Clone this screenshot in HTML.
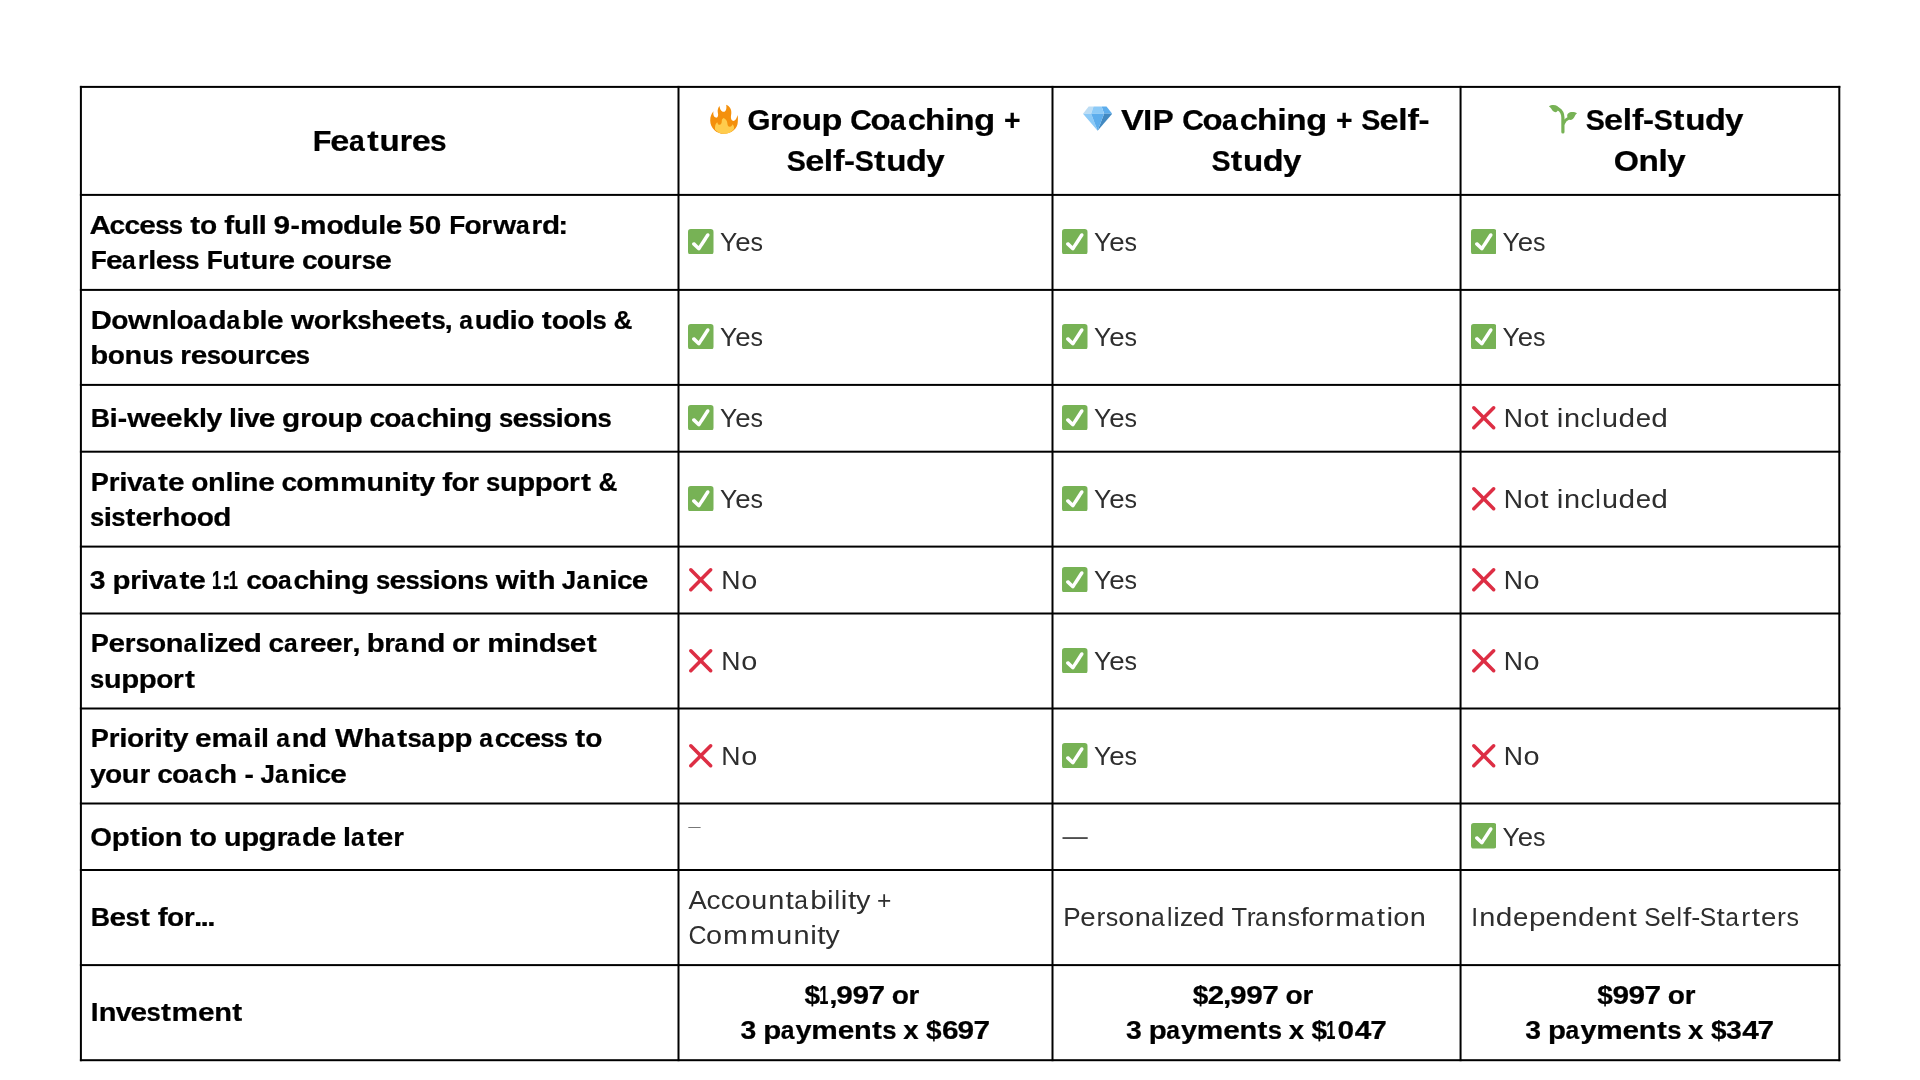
<!DOCTYPE html>
<html><head><meta charset="utf-8"><title>Coaching Comparison</title>
<style>
html,body{margin:0;padding:0;background:#fff;}
body{width:1920px;height:1080px;overflow:hidden;position:relative;font-family:"Liberation Sans",sans-serif;color:#000;}
.t{position:absolute;white-space:nowrap;line-height:normal;transform-origin:0 0;}
#tx{position:absolute;left:0;top:0;width:1920px;height:1080px;will-change:transform;}
.b{font-weight:bold;-webkit-text-stroke:0.23px #000;}
.r{color:#2e2e2e;-webkit-text-stroke:0px #fff;}
.t i{display:inline-block;width:0;font-style:normal;transform-origin:0 0;}
.sp{font-size:0;}
.e{position:absolute;display:block;}
svg.g{position:absolute;left:0;top:0;}
</style></head><body>

<svg class="g" width="1920" height="1080" viewBox="0 0 1920 1080">
<rect x="79.90" y="85.90" width="1760.40" height="2.0" fill="#000"/>
<rect x="79.90" y="193.90" width="1760.40" height="2.0" fill="#000"/>
<rect x="79.90" y="288.90" width="1760.40" height="2.0" fill="#000"/>
<rect x="79.90" y="383.90" width="1760.40" height="2.0" fill="#000"/>
<rect x="79.90" y="450.70" width="1760.40" height="2.0" fill="#000"/>
<rect x="79.90" y="545.60" width="1760.40" height="2.0" fill="#000"/>
<rect x="79.90" y="612.50" width="1760.40" height="2.0" fill="#000"/>
<rect x="79.90" y="707.50" width="1760.40" height="2.0" fill="#000"/>
<rect x="79.90" y="802.50" width="1760.40" height="2.0" fill="#000"/>
<rect x="79.90" y="869.00" width="1760.40" height="2.0" fill="#000"/>
<rect x="79.90" y="964.10" width="1760.40" height="2.0" fill="#000"/>
<rect x="79.90" y="1059.20" width="1760.40" height="2.0" fill="#000"/>
<rect x="79.90" y="85.90" width="2.0" height="975.30" fill="#000"/>
<rect x="677.50" y="85.90" width="2.0" height="975.30" fill="#000"/>
<rect x="1051.50" y="85.90" width="2.0" height="975.30" fill="#000"/>
<rect x="1459.56" y="85.90" width="2.0" height="975.30" fill="#000"/>
<rect x="1838.30" y="85.90" width="2.0" height="975.30" fill="#000"/>
<rect x="688.3" y="827.0" width="12.3" height="1.0" fill="#777"/>
<rect x="1062.5" y="837.3" width="25.2" height="1.5" fill="#222"/>
</svg>
<div id="tx">
<div class="t b" style="left:312px;top:124px;font-size:29.8px"><i style="transform:translateX(0.75px) scaleX(1.026)">F</i><i style="transform:translateX(18.32px) scaleX(1.150)">e</i><i style="transform:translateX(36.97px) scaleX(0.950)">a</i><i style="transform:translateX(55.35px) scaleX(1.150)">t</i><i style="transform:translateX(67.60px) scaleX(1.111)">u</i><i style="transform:translateX(87.70px) scaleX(1.065)">r</i><i style="transform:translateX(99.69px) scaleX(1.150)">e</i><i style="transform:translateX(118.09px) scaleX(1.000)">s</i></div>
<div class="t b" style="left:748px;top:103px;font-size:29.8px"><i style="transform:translateX(-0.59px) scaleX(0.990)">G</i><i style="transform:translateX(22.06px) scaleX(1.065)">r</i><i style="transform:translateX(34.05px) scaleX(1.101)">o</i><i style="transform:translateX(53.66px) scaleX(1.111)">u</i><i style="transform:translateX(73.60px) scaleX(1.147)">p</i><span class="sp"> </span><i style="transform:translateX(102.19px) scaleX(1.005)">C</i><i style="transform:translateX(122.54px) scaleX(1.101)">o</i><i style="transform:translateX(142.08px) scaleX(0.950)">a</i><i style="transform:translateX(159.67px) scaleX(1.097)">c</i><i style="transform:translateX(177.03px) scaleX(1.126)">h</i><i style="transform:translateX(197.17px) scaleX(1.150)">i</i><i style="transform:translateX(206.22px) scaleX(1.118)">n</i><i style="transform:translateX(226.37px) scaleX(1.150)">g</i><span class="sp"> </span><i style="transform:translateX(256.06px) scaleX(0.950)">+</i></div>
<div class="t b" style="left:787px;top:144px;font-size:29.8px"><i style="transform:translateX(-0.16px) scaleX(0.961)">S</i><i style="transform:translateX(18.18px) scaleX(1.150)">e</i><i style="transform:translateX(36.83px) scaleX(1.122)">l</i><i style="transform:translateX(46.06px) scaleX(1.150)">f</i><i style="transform:translateX(57.12px) scaleX(1.107)">-</i><i style="transform:translateX(67.79px) scaleX(0.961)">S</i><i style="transform:translateX(87.05px) scaleX(1.150)">t</i><i style="transform:translateX(99.30px) scaleX(1.111)">u</i><i style="transform:translateX(119.05px) scaleX(1.147)">d</i><i style="transform:translateX(139.18px) scaleX(1.111)">y</i></div>
<div class="t b" style="left:1122px;top:103px;font-size:29.8px"><i style="transform:translateX(-1.03px) scaleX(1.149)">V</i><i style="transform:translateX(21.09px) scaleX(1.116)">I</i><i style="transform:translateX(30.82px) scaleX(1.053)">P</i><span class="sp"> </span><i style="transform:translateX(60.16px) scaleX(1.005)">C</i><i style="transform:translateX(80.51px) scaleX(1.101)">o</i><i style="transform:translateX(100.05px) scaleX(0.950)">a</i><i style="transform:translateX(117.64px) scaleX(1.097)">c</i><i style="transform:translateX(135.00px) scaleX(1.126)">h</i><i style="transform:translateX(155.14px) scaleX(1.150)">i</i><i style="transform:translateX(164.19px) scaleX(1.118)">n</i><i style="transform:translateX(184.34px) scaleX(1.150)">g</i><span class="sp"> </span><i style="transform:translateX(214.03px) scaleX(0.950)">+</i><span class="sp"> </span><i style="transform:translateX(239.27px) scaleX(0.961)">S</i><i style="transform:translateX(257.62px) scaleX(1.150)">e</i><i style="transform:translateX(276.26px) scaleX(1.122)">l</i><i style="transform:translateX(285.50px) scaleX(1.150)">f</i><i style="transform:translateX(296.55px) scaleX(1.107)">-</i></div>
<div class="t b" style="left:1212px;top:144px;font-size:29.8px"><i style="transform:translateX(-0.46px) scaleX(0.961)">S</i><i style="transform:translateX(18.79px) scaleX(1.150)">t</i><i style="transform:translateX(31.04px) scaleX(1.111)">u</i><i style="transform:translateX(50.79px) scaleX(1.147)">d</i><i style="transform:translateX(70.92px) scaleX(1.111)">y</i></div>
<div class="t b" style="left:1586px;top:103px;font-size:29.8px"><i style="transform:translateX(-0.26px) scaleX(0.961)">S</i><i style="transform:translateX(18.08px) scaleX(1.150)">e</i><i style="transform:translateX(36.73px) scaleX(1.122)">l</i><i style="transform:translateX(45.96px) scaleX(1.150)">f</i><i style="transform:translateX(57.02px) scaleX(1.107)">-</i><i style="transform:translateX(67.69px) scaleX(0.961)">S</i><i style="transform:translateX(86.95px) scaleX(1.150)">t</i><i style="transform:translateX(99.20px) scaleX(1.111)">u</i><i style="transform:translateX(118.95px) scaleX(1.147)">d</i><i style="transform:translateX(139.08px) scaleX(1.111)">y</i></div>
<div class="t b" style="left:1614px;top:144px;font-size:29.8px"><i style="transform:translateX(-0.30px) scaleX(1.087)">O</i><i style="transform:translateX(24.49px) scaleX(1.118)">n</i><i style="transform:translateX(44.62px) scaleX(1.122)">l</i><i style="transform:translateX(53.17px) scaleX(1.111)">y</i></div>
<div class="t b" style="left:90px;top:211px;font-size:25.9px"><i style="transform:translateX(-0.50px) scaleX(1.150)">A</i><i style="transform:translateX(19.54px) scaleX(1.087)">c</i><i style="transform:translateX(34.38px) scaleX(1.087)">c</i><i style="transform:translateX(49.17px) scaleX(1.150)">e</i><i style="transform:translateX(65.14px) scaleX(0.992)">s</i><i style="transform:translateX(78.63px) scaleX(0.992)">s</i><span class="sp"> </span><i style="transform:translateX(100.15px) scaleX(1.150)">t</i><i style="transform:translateX(110.03px) scaleX(1.087)">o</i><span class="sp"> </span><i style="transform:translateX(134.31px) scaleX(1.150)">f</i><i style="transform:translateX(143.89px) scaleX(1.112)">u</i><i style="transform:translateX(161.22px) scaleX(1.111)">l</i><i style="transform:translateX(168.87px) scaleX(1.111)">l</i><span class="sp"> </span><i style="transform:translateX(183.47px) scaleX(1.150)">9</i><i style="transform:translateX(200.38px) scaleX(1.091)">-</i><i style="transform:translateX(210.04px) scaleX(1.150)">m</i><i style="transform:translateX(236.44px) scaleX(1.087)">o</i><i style="transform:translateX(253.00px) scaleX(1.146)">d</i><i style="transform:translateX(270.86px) scaleX(1.112)">u</i><i style="transform:translateX(288.19px) scaleX(1.111)">l</i><i style="transform:translateX(295.70px) scaleX(1.150)">e</i><span class="sp"> </span><i style="transform:translateX(318.67px) scaleX(1.093)">5</i><i style="transform:translateX(334.73px) scaleX(1.150)">0</i><span class="sp"> </span><i style="transform:translateX(359.17px) scaleX(1.015)">F</i><i style="transform:translateX(374.39px) scaleX(1.087)">o</i><i style="transform:translateX(391.31px) scaleX(1.063)">r</i><i style="transform:translateX(402.99px) scaleX(1.150)">w</i><i style="transform:translateX(425.98px) scaleX(0.950)">a</i><i style="transform:translateX(441.56px) scaleX(1.063)">r</i><i style="transform:translateX(451.93px) scaleX(1.146)">d</i><i style="transform:translateX(468.27px) scaleX(1.150)">:</i></div>
<div class="t b" style="left:90px;top:246px;font-size:25.9px"><i style="transform:translateX(0.87px) scaleX(1.015)">F</i><i style="transform:translateX(16.05px) scaleX(1.150)">e</i><i style="transform:translateX(32.12px) scaleX(0.950)">a</i><i style="transform:translateX(47.70px) scaleX(1.063)">r</i><i style="transform:translateX(58.36px) scaleX(1.111)">l</i><i style="transform:translateX(65.87px) scaleX(1.150)">e</i><i style="transform:translateX(81.84px) scaleX(0.992)">s</i><i style="transform:translateX(95.33px) scaleX(0.992)">s</i><span class="sp"> </span><i style="transform:translateX(116.77px) scaleX(1.015)">F</i><i style="transform:translateX(132.20px) scaleX(1.112)">u</i><i style="transform:translateX(150.19px) scaleX(1.150)">t</i><i style="transform:translateX(160.70px) scaleX(1.112)">u</i><i style="transform:translateX(178.22px) scaleX(1.063)">r</i><i style="transform:translateX(188.62px) scaleX(1.150)">e</i><span class="sp"> </span><i style="transform:translateX(211.89px) scaleX(1.087)">c</i><i style="transform:translateX(226.72px) scaleX(1.087)">o</i><i style="transform:translateX(243.57px) scaleX(1.112)">u</i><i style="transform:translateX(261.09px) scaleX(1.063)">r</i><i style="transform:translateX(271.65px) scaleX(0.992)">s</i><i style="transform:translateX(285.20px) scaleX(1.150)">e</i></div>
<div class="t b" style="left:90px;top:306px;font-size:25.9px"><i style="transform:translateX(0.69px) scaleX(1.126)">D</i><i style="transform:translateX(21.19px) scaleX(1.087)">o</i><i style="transform:translateX(38.08px) scaleX(1.150)">w</i><i style="transform:translateX(61.43px) scaleX(1.120)">n</i><i style="transform:translateX(78.89px) scaleX(1.111)">l</i><i style="transform:translateX(86.45px) scaleX(1.087)">o</i><i style="transform:translateX(103.22px) scaleX(0.950)">a</i><i style="transform:translateX(118.55px) scaleX(1.146)">d</i><i style="transform:translateX(136.57px) scaleX(0.950)">a</i><i style="transform:translateX(152.03px) scaleX(1.137)">b</i><i style="transform:translateX(169.49px) scaleX(1.111)">l</i><i style="transform:translateX(176.99px) scaleX(1.150)">e</i><span class="sp"> </span><i style="transform:translateX(200.89px) scaleX(1.150)">w</i><i style="transform:translateX(223.68px) scaleX(1.087)">o</i><i style="transform:translateX(240.60px) scaleX(1.063)">r</i><i style="transform:translateX(251.44px) scaleX(1.150)">k</i><i style="transform:translateX(267.24px) scaleX(0.992)">s</i><i style="transform:translateX(280.89px) scaleX(1.129)">h</i><i style="transform:translateX(298.44px) scaleX(1.150)">e</i><i style="transform:translateX(314.46px) scaleX(1.150)">e</i><i style="transform:translateX(331.28px) scaleX(1.150)">t</i><i style="transform:translateX(341.49px) scaleX(0.992)">s</i><i style="transform:translateX(354.52px) scaleX(1.150)">,</i><span class="sp"> </span><i style="transform:translateX(369.29px) scaleX(0.950)">a</i><i style="transform:translateX(384.80px) scaleX(1.112)">u</i><i style="transform:translateX(401.97px) scaleX(1.146)">d</i><i style="transform:translateX(419.57px) scaleX(1.150)">i</i><i style="transform:translateX(427.26px) scaleX(1.087)">o</i><span class="sp"> </span><i style="transform:translateX(451.83px) scaleX(1.150)">t</i><i style="transform:translateX(461.71px) scaleX(1.087)">o</i><i style="transform:translateX(478.35px) scaleX(1.087)">o</i><i style="transform:translateX(495.07px) scaleX(1.111)">l</i><i style="transform:translateX(502.53px) scaleX(0.992)">s</i><span class="sp"> </span><i style="transform:translateX(523.38px) scaleX(1.012)">&amp;</i></div>
<div class="t b" style="left:90px;top:341px;font-size:25.9px"><i style="transform:translateX(0.37px) scaleX(1.137)">b</i><i style="transform:translateX(17.74px) scaleX(1.087)">o</i><i style="transform:translateX(34.56px) scaleX(1.120)">n</i><i style="transform:translateX(52.14px) scaleX(1.112)">u</i><i style="transform:translateX(69.27px) scaleX(0.992)">s</i><span class="sp"> </span><i style="transform:translateX(90.33px) scaleX(1.063)">r</i><i style="transform:translateX(100.73px) scaleX(1.150)">e</i><i style="transform:translateX(116.70px) scaleX(0.992)">s</i><i style="transform:translateX(130.30px) scaleX(1.087)">o</i><i style="transform:translateX(147.14px) scaleX(1.112)">u</i><i style="transform:translateX(164.67px) scaleX(1.063)">r</i><i style="transform:translateX(175.11px) scaleX(1.087)">c</i><i style="transform:translateX(189.90px) scaleX(1.150)">e</i><i style="transform:translateX(205.87px) scaleX(0.992)">s</i></div>
<div class="t b" style="left:90px;top:404px;font-size:25.9px"><i style="transform:translateX(0.85px) scaleX(1.032)">B</i><i style="transform:translateX(19.59px) scaleX(1.150)">i</i><i style="transform:translateX(27.79px) scaleX(1.091)">-</i><i style="transform:translateX(37.31px) scaleX(1.150)">w</i><i style="transform:translateX(60.05px) scaleX(1.150)">e</i><i style="transform:translateX(76.07px) scaleX(1.150)">e</i><i style="transform:translateX(92.42px) scaleX(1.150)">k</i><i style="transform:translateX(108.88px) scaleX(1.111)">l</i><i style="transform:translateX(116.20px) scaleX(1.113)">y</i><span class="sp"> </span><i style="transform:translateX(138.90px) scaleX(1.111)">l</i><i style="transform:translateX(146.40px) scaleX(1.150)">i</i><i style="transform:translateX(154.08px) scaleX(1.099)">v</i><i style="transform:translateX(168.86px) scaleX(1.150)">e</i><span class="sp"> </span><i style="transform:translateX(192.02px) scaleX(1.150)">g</i><i style="transform:translateX(210.19px) scaleX(1.063)">r</i><i style="transform:translateX(220.63px) scaleX(1.087)">o</i><i style="transform:translateX(237.48px) scaleX(1.112)">u</i><i style="transform:translateX(254.87px) scaleX(1.137)">p</i><span class="sp"> </span><i style="transform:translateX(279.43px) scaleX(1.087)">c</i><i style="transform:translateX(294.27px) scaleX(1.087)">o</i><i style="transform:translateX(311.05px) scaleX(0.950)">a</i><i style="transform:translateX(326.45px) scaleX(1.087)">c</i><i style="transform:translateX(341.42px) scaleX(1.129)">h</i><i style="transform:translateX(358.87px) scaleX(1.150)">i</i><i style="transform:translateX(366.75px) scaleX(1.120)">n</i><i style="transform:translateX(384.12px) scaleX(1.150)">g</i><span class="sp"> </span><i style="transform:translateX(409.08px) scaleX(0.992)">s</i><i style="transform:translateX(422.62px) scaleX(1.150)">e</i><i style="transform:translateX(438.60px) scaleX(0.992)">s</i><i style="transform:translateX(452.08px) scaleX(0.992)">s</i><i style="transform:translateX(465.62px) scaleX(1.150)">i</i><i style="transform:translateX(473.32px) scaleX(1.087)">o</i><i style="transform:translateX(490.14px) scaleX(1.120)">n</i><i style="transform:translateX(507.41px) scaleX(0.992)">s</i></div>
<div class="t b" style="left:90px;top:468px;font-size:25.9px"><i style="transform:translateX(0.82px) scaleX(1.048)">P</i><i style="transform:translateX(18.82px) scaleX(1.063)">r</i><i style="transform:translateX(29.35px) scaleX(1.150)">i</i><i style="transform:translateX(37.02px) scaleX(1.099)">v</i><i style="transform:translateX(52.05px) scaleX(0.950)">a</i><i style="transform:translateX(68.09px) scaleX(1.150)">t</i><i style="transform:translateX(77.92px) scaleX(1.150)">e</i><span class="sp"> </span><i style="transform:translateX(101.19px) scaleX(1.087)">o</i><i style="transform:translateX(118.01px) scaleX(1.120)">n</i><i style="transform:translateX(135.46px) scaleX(1.111)">l</i><i style="transform:translateX(142.97px) scaleX(1.150)">i</i><i style="transform:translateX(150.85px) scaleX(1.120)">n</i><i style="transform:translateX(168.27px) scaleX(1.150)">e</i><span class="sp"> </span><i style="transform:translateX(191.54px) scaleX(1.087)">c</i><i style="transform:translateX(206.37px) scaleX(1.087)">o</i><i style="transform:translateX(223.37px) scaleX(1.150)">m</i><i style="transform:translateX(250.01px) scaleX(1.150)">m</i><i style="transform:translateX(276.51px) scaleX(1.112)">u</i><i style="transform:translateX(293.94px) scaleX(1.120)">n</i><i style="transform:translateX(311.25px) scaleX(1.150)">i</i><i style="transform:translateX(319.69px) scaleX(1.150)">t</i><i style="transform:translateX(329.15px) scaleX(1.113)">y</i><span class="sp"> </span><i style="transform:translateX(352.22px) scaleX(1.150)">f</i><i style="transform:translateX(361.42px) scaleX(1.087)">o</i><i style="transform:translateX(378.34px) scaleX(1.063)">r</i><span class="sp"> </span><i style="transform:translateX(396.08px) scaleX(0.992)">s</i><i style="transform:translateX(409.88px) scaleX(1.112)">u</i><i style="transform:translateX(427.28px) scaleX(1.137)">p</i><i style="transform:translateX(444.81px) scaleX(1.137)">p</i><i style="transform:translateX(462.18px) scaleX(1.087)">o</i><i style="transform:translateX(479.10px) scaleX(1.063)">r</i><i style="transform:translateX(490.89px) scaleX(1.150)">t</i><span class="sp"> </span><i style="transform:translateX(508.46px) scaleX(1.012)">&amp;</i></div>
<div class="t b" style="left:90px;top:503px;font-size:25.9px"><i style="transform:translateX(0.11px) scaleX(0.992)">s</i><i style="transform:translateX(13.65px) scaleX(1.150)">i</i><i style="transform:translateX(21.24px) scaleX(0.992)">s</i><i style="transform:translateX(35.58px) scaleX(1.150)">t</i><i style="transform:translateX(45.40px) scaleX(1.150)">e</i><i style="transform:translateX(61.76px) scaleX(1.063)">r</i><i style="transform:translateX(72.39px) scaleX(1.129)">h</i><i style="transform:translateX(89.99px) scaleX(1.087)">o</i><i style="transform:translateX(106.63px) scaleX(1.087)">o</i><i style="transform:translateX(123.19px) scaleX(1.146)">d</i></div>
<div class="t b" style="left:90px;top:566px;font-size:25.9px"><i style="transform:translateX(-0.16px) scaleX(1.093)">3</i><span class="sp"> </span><i style="transform:translateX(22.59px) scaleX(1.137)">p</i><i style="transform:translateX(40.25px) scaleX(1.063)">r</i><i style="transform:translateX(50.77px) scaleX(1.150)">i</i><i style="transform:translateX(58.44px) scaleX(1.099)">v</i><i style="transform:translateX(73.47px) scaleX(0.950)">a</i><i style="transform:translateX(89.51px) scaleX(1.150)">t</i><i style="transform:translateX(99.34px) scaleX(1.150)">e</i><span class="sp"> </span><i style="transform:translateX(122.08px) scaleX(0.636)">1</i><i style="transform:translateX(131.26px) scaleX(1.150)">:</i><i style="transform:translateX(138.69px) scaleX(0.636)">1</i><span class="sp"> </span><i style="transform:translateX(156.36px) scaleX(1.087)">c</i><i style="transform:translateX(171.20px) scaleX(1.087)">o</i><i style="transform:translateX(187.98px) scaleX(0.950)">a</i><i style="transform:translateX(203.38px) scaleX(1.087)">c</i><i style="transform:translateX(218.35px) scaleX(1.129)">h</i><i style="transform:translateX(235.80px) scaleX(1.150)">i</i><i style="transform:translateX(243.68px) scaleX(1.120)">n</i><i style="transform:translateX(261.04px) scaleX(1.150)">g</i><span class="sp"> </span><i style="transform:translateX(286.01px) scaleX(0.992)">s</i><i style="transform:translateX(299.55px) scaleX(1.150)">e</i><i style="transform:translateX(315.52px) scaleX(0.992)">s</i><i style="transform:translateX(329.01px) scaleX(0.992)">s</i><i style="transform:translateX(342.55px) scaleX(1.150)">i</i><i style="transform:translateX(350.25px) scaleX(1.087)">o</i><i style="transform:translateX(367.07px) scaleX(1.120)">n</i><i style="transform:translateX(384.33px) scaleX(0.992)">s</i><span class="sp"> </span><i style="transform:translateX(405.74px) scaleX(1.150)">w</i><i style="transform:translateX(428.86px) scaleX(1.150)">i</i><i style="transform:translateX(437.30px) scaleX(1.150)">t</i><i style="transform:translateX(447.66px) scaleX(1.129)">h</i><span class="sp"> </span><i style="transform:translateX(471.83px) scaleX(1.000)">J</i><i style="transform:translateX(486.46px) scaleX(0.950)">a</i><i style="transform:translateX(501.94px) scaleX(1.120)">n</i><i style="transform:translateX(519.26px) scaleX(1.150)">i</i><i style="transform:translateX(526.96px) scaleX(1.087)">c</i><i style="transform:translateX(541.74px) scaleX(1.150)">e</i></div>
<div class="t b" style="left:90px;top:629px;font-size:25.9px"><i style="transform:translateX(0.82px) scaleX(1.048)">P</i><i style="transform:translateX(18.47px) scaleX(1.150)">e</i><i style="transform:translateX(34.83px) scaleX(1.063)">r</i><i style="transform:translateX(45.39px) scaleX(0.992)">s</i><i style="transform:translateX(58.98px) scaleX(1.087)">o</i><i style="transform:translateX(75.80px) scaleX(1.120)">n</i><i style="transform:translateX(93.54px) scaleX(0.950)">a</i><i style="transform:translateX(108.93px) scaleX(1.111)">l</i><i style="transform:translateX(116.44px) scaleX(1.150)">i</i><i style="transform:translateX(124.21px) scaleX(1.109)">z</i><i style="transform:translateX(137.70px) scaleX(1.150)">e</i><i style="transform:translateX(153.71px) scaleX(1.146)">d</i><span class="sp"> </span><i style="transform:translateX(178.54px) scaleX(1.087)">c</i><i style="transform:translateX(193.93px) scaleX(0.950)">a</i><i style="transform:translateX(209.51px) scaleX(1.063)">r</i><i style="transform:translateX(219.90px) scaleX(1.150)">e</i><i style="transform:translateX(235.93px) scaleX(1.150)">e</i><i style="transform:translateX(252.29px) scaleX(1.063)">r</i><i style="transform:translateX(262.14px) scaleX(1.150)">,</i><span class="sp"> </span><i style="transform:translateX(276.70px) scaleX(1.137)">b</i><i style="transform:translateX(294.35px) scaleX(1.063)">r</i><i style="transform:translateX(304.40px) scaleX(0.950)">a</i><i style="transform:translateX(319.88px) scaleX(1.120)">n</i><i style="transform:translateX(337.28px) scaleX(1.146)">d</i><span class="sp"> </span><i style="transform:translateX(362.12px) scaleX(1.087)">o</i><i style="transform:translateX(379.03px) scaleX(1.063)">r</i><span class="sp"> </span><i style="transform:translateX(397.24px) scaleX(1.150)">m</i><i style="transform:translateX(423.48px) scaleX(1.150)">i</i><i style="transform:translateX(431.36px) scaleX(1.120)">n</i><i style="transform:translateX(448.76px) scaleX(1.146)">d</i><i style="transform:translateX(466.30px) scaleX(0.992)">s</i><i style="transform:translateX(479.85px) scaleX(1.150)">e</i><i style="transform:translateX(496.67px) scaleX(1.150)">t</i></div>
<div class="t b" style="left:90px;top:665px;font-size:25.9px"><i style="transform:translateX(0.11px) scaleX(0.992)">s</i><i style="transform:translateX(13.91px) scaleX(1.112)">u</i><i style="transform:translateX(31.30px) scaleX(1.137)">p</i><i style="transform:translateX(48.83px) scaleX(1.137)">p</i><i style="transform:translateX(66.20px) scaleX(1.087)">o</i><i style="transform:translateX(83.12px) scaleX(1.063)">r</i><i style="transform:translateX(94.91px) scaleX(1.150)">t</i></div>
<div class="t b" style="left:90px;top:724px;font-size:25.9px"><i style="transform:translateX(0.82px) scaleX(1.048)">P</i><i style="transform:translateX(18.82px) scaleX(1.063)">r</i><i style="transform:translateX(29.35px) scaleX(1.150)">i</i><i style="transform:translateX(37.04px) scaleX(1.087)">o</i><i style="transform:translateX(53.96px) scaleX(1.063)">r</i><i style="transform:translateX(64.48px) scaleX(1.150)">i</i><i style="transform:translateX(72.92px) scaleX(1.150)">t</i><i style="transform:translateX(82.38px) scaleX(1.113)">y</i><span class="sp"> </span><i style="transform:translateX(104.94px) scaleX(1.150)">e</i><i style="transform:translateX(121.38px) scaleX(1.150)">m</i><i style="transform:translateX(148.04px) scaleX(0.950)">a</i><i style="transform:translateX(163.29px) scaleX(1.150)">i</i><i style="transform:translateX(171.07px) scaleX(1.111)">l</i><span class="sp"> </span><i style="transform:translateX(186.19px) scaleX(0.950)">a</i><i style="transform:translateX(201.67px) scaleX(1.120)">n</i><i style="transform:translateX(219.07px) scaleX(1.146)">d</i><span class="sp"> </span><i style="transform:translateX(244.96px) scaleX(1.150)">W</i><i style="transform:translateX(273.37px) scaleX(1.129)">h</i><i style="transform:translateX(291.24px) scaleX(0.950)">a</i><i style="transform:translateX(307.28px) scaleX(1.150)">t</i><i style="transform:translateX(317.48px) scaleX(0.992)">s</i><i style="transform:translateX(331.45px) scaleX(0.950)">a</i><i style="transform:translateX(346.90px) scaleX(1.137)">p</i><i style="transform:translateX(364.43px) scaleX(1.137)">p</i><span class="sp"> </span><i style="transform:translateX(389.36px) scaleX(0.950)">a</i><i style="transform:translateX(404.76px) scaleX(1.087)">c</i><i style="transform:translateX(419.60px) scaleX(1.087)">c</i><i style="transform:translateX(434.38px) scaleX(1.150)">e</i><i style="transform:translateX(450.36px) scaleX(0.992)">s</i><i style="transform:translateX(463.84px) scaleX(0.992)">s</i><span class="sp"> </span><i style="transform:translateX(485.37px) scaleX(1.150)">t</i><i style="transform:translateX(495.25px) scaleX(1.087)">o</i></div>
<div class="t b" style="left:90px;top:760px;font-size:25.9px"><i style="transform:translateX(-0.02px) scaleX(1.113)">y</i><i style="transform:translateX(15.02px) scaleX(1.087)">o</i><i style="transform:translateX(31.87px) scaleX(1.112)">u</i><i style="transform:translateX(49.39px) scaleX(1.063)">r</i><span class="sp"> </span><i style="transform:translateX(67.24px) scaleX(1.087)">c</i><i style="transform:translateX(82.08px) scaleX(1.087)">o</i><i style="transform:translateX(98.86px) scaleX(0.950)">a</i><i style="transform:translateX(114.26px) scaleX(1.087)">c</i><i style="transform:translateX(129.23px) scaleX(1.129)">h</i><span class="sp"> </span><i style="transform:translateX(154.41px) scaleX(1.091)">-</i><span class="sp"> </span><i style="transform:translateX(170.40px) scaleX(1.000)">J</i><i style="transform:translateX(185.02px) scaleX(0.950)">a</i><i style="transform:translateX(200.50px) scaleX(1.120)">n</i><i style="transform:translateX(217.82px) scaleX(1.150)">i</i><i style="transform:translateX(225.52px) scaleX(1.087)">c</i><i style="transform:translateX(240.30px) scaleX(1.150)">e</i></div>
<div class="t b" style="left:90px;top:823px;font-size:25.9px"><i style="transform:translateX(0.31px) scaleX(1.078)">O</i><i style="transform:translateX(21.80px) scaleX(1.137)">p</i><i style="transform:translateX(39.92px) scaleX(1.150)">t</i><i style="transform:translateX(50.17px) scaleX(1.150)">i</i><i style="transform:translateX(57.87px) scaleX(1.087)">o</i><i style="transform:translateX(74.69px) scaleX(1.120)">n</i><span class="sp"> </span><i style="transform:translateX(99.99px) scaleX(1.150)">t</i><i style="transform:translateX(109.87px) scaleX(1.087)">o</i><span class="sp"> </span><i style="transform:translateX(133.90px) scaleX(1.112)">u</i><i style="transform:translateX(151.30px) scaleX(1.137)">p</i><i style="transform:translateX(168.57px) scaleX(1.150)">g</i><i style="transform:translateX(186.73px) scaleX(1.063)">r</i><i style="transform:translateX(196.78px) scaleX(0.950)">a</i><i style="transform:translateX(212.10px) scaleX(1.146)">d</i><i style="transform:translateX(229.70px) scaleX(1.150)">e</i><span class="sp"> </span><i style="transform:translateX(253.06px) scaleX(1.111)">l</i><i style="transform:translateX(260.99px) scaleX(0.950)">a</i><i style="transform:translateX(277.03px) scaleX(1.150)">t</i><i style="transform:translateX(286.86px) scaleX(1.150)">e</i><i style="transform:translateX(303.22px) scaleX(1.063)">r</i></div>
<div class="t b" style="left:90px;top:903px;font-size:25.9px"><i style="transform:translateX(0.85px) scaleX(1.032)">B</i><i style="transform:translateX(19.59px) scaleX(1.150)">e</i><i style="transform:translateX(35.57px) scaleX(0.992)">s</i><i style="transform:translateX(49.90px) scaleX(1.150)">t</i><span class="sp"> </span><i style="transform:translateX(67.85px) scaleX(1.150)">f</i><i style="transform:translateX(77.05px) scaleX(1.087)">o</i><i style="transform:translateX(93.97px) scaleX(1.063)">r</i><i style="transform:translateX(103.94px) scaleX(1.150)">.</i><i style="transform:translateX(110.59px) scaleX(1.150)">.</i><i style="transform:translateX(117.25px) scaleX(1.150)">.</i></div>
<div class="t b" style="left:90px;top:998px;font-size:25.9px"><i style="transform:translateX(0.77px) scaleX(1.079)">I</i><i style="transform:translateX(8.73px) scaleX(1.120)">n</i><i style="transform:translateX(25.82px) scaleX(1.099)">v</i><i style="transform:translateX(40.60px) scaleX(1.150)">e</i><i style="transform:translateX(56.57px) scaleX(0.992)">s</i><i style="transform:translateX(70.91px) scaleX(1.150)">t</i><i style="transform:translateX(81.57px) scaleX(1.150)">m</i><i style="transform:translateX(107.91px) scaleX(1.150)">e</i><i style="transform:translateX(124.17px) scaleX(1.120)">n</i><i style="transform:translateX(142.28px) scaleX(1.150)">t</i></div>
<div class="t r" style="left:721px;top:228px;font-size:25.9px"><i style="transform:translateX(-1.00px) scaleX(1.000)">Y</i><i style="transform:translateX(14.23px) scaleX(1.066)">e</i><i style="transform:translateX(29.57px) scaleX(0.965)">s</i></div>
<div class="t r" style="left:1094px;top:228px;font-size:25.9px"><i style="transform:translateX(-0.10px) scaleX(1.000)">Y</i><i style="transform:translateX(15.13px) scaleX(1.066)">e</i><i style="transform:translateX(30.47px) scaleX(0.965)">s</i></div>
<div class="t r" style="left:1503px;top:228px;font-size:25.9px"><i style="transform:translateX(-0.60px) scaleX(1.000)">Y</i><i style="transform:translateX(14.63px) scaleX(1.066)">e</i><i style="transform:translateX(29.97px) scaleX(0.965)">s</i></div>
<div class="t r" style="left:721px;top:323px;font-size:25.9px"><i style="transform:translateX(-1.00px) scaleX(1.000)">Y</i><i style="transform:translateX(14.23px) scaleX(1.066)">e</i><i style="transform:translateX(29.57px) scaleX(0.965)">s</i></div>
<div class="t r" style="left:1094px;top:323px;font-size:25.9px"><i style="transform:translateX(-0.10px) scaleX(1.000)">Y</i><i style="transform:translateX(15.13px) scaleX(1.066)">e</i><i style="transform:translateX(30.47px) scaleX(0.965)">s</i></div>
<div class="t r" style="left:1503px;top:323px;font-size:25.9px"><i style="transform:translateX(-0.60px) scaleX(1.000)">Y</i><i style="transform:translateX(14.63px) scaleX(1.066)">e</i><i style="transform:translateX(29.97px) scaleX(0.965)">s</i></div>
<div class="t r" style="left:721px;top:404px;font-size:25.9px"><i style="transform:translateX(-1.00px) scaleX(1.000)">Y</i><i style="transform:translateX(14.23px) scaleX(1.066)">e</i><i style="transform:translateX(29.57px) scaleX(0.965)">s</i></div>
<div class="t r" style="left:1094px;top:404px;font-size:25.9px"><i style="transform:translateX(-0.10px) scaleX(1.000)">Y</i><i style="transform:translateX(15.13px) scaleX(1.066)">e</i><i style="transform:translateX(30.47px) scaleX(0.965)">s</i></div>
<div class="t r" style="left:1503px;top:404px;font-size:25.9px"><i style="transform:translateX(0.74px) scaleX(1.028)">N</i><i style="transform:translateX(20.62px) scaleX(1.115)">o</i><i style="transform:translateX(37.27px) scaleX(1.150)">t</i><span class="sp"> </span><i style="transform:translateX(53.72px) scaleX(1.150)">i</i><i style="transform:translateX(60.98px) scaleX(1.118)">n</i><i style="transform:translateX(77.56px) scaleX(1.080)">c</i><i style="transform:translateX(92.34px) scaleX(0.950)">l</i><i style="transform:translateX(99.00px) scaleX(1.109)">u</i><i style="transform:translateX(115.57px) scaleX(1.150)">d</i><i style="transform:translateX(132.80px) scaleX(1.066)">e</i><i style="transform:translateX(148.13px) scaleX(1.150)">d</i></div>
<div class="t r" style="left:721px;top:485px;font-size:25.9px"><i style="transform:translateX(-1.00px) scaleX(1.000)">Y</i><i style="transform:translateX(14.23px) scaleX(1.066)">e</i><i style="transform:translateX(29.57px) scaleX(0.965)">s</i></div>
<div class="t r" style="left:1094px;top:485px;font-size:25.9px"><i style="transform:translateX(-0.10px) scaleX(1.000)">Y</i><i style="transform:translateX(15.13px) scaleX(1.066)">e</i><i style="transform:translateX(30.47px) scaleX(0.965)">s</i></div>
<div class="t r" style="left:1503px;top:485px;font-size:25.9px"><i style="transform:translateX(0.74px) scaleX(1.028)">N</i><i style="transform:translateX(20.62px) scaleX(1.115)">o</i><i style="transform:translateX(37.27px) scaleX(1.150)">t</i><span class="sp"> </span><i style="transform:translateX(53.72px) scaleX(1.150)">i</i><i style="transform:translateX(60.98px) scaleX(1.118)">n</i><i style="transform:translateX(77.56px) scaleX(1.080)">c</i><i style="transform:translateX(92.34px) scaleX(0.950)">l</i><i style="transform:translateX(99.00px) scaleX(1.109)">u</i><i style="transform:translateX(115.57px) scaleX(1.150)">d</i><i style="transform:translateX(132.80px) scaleX(1.066)">e</i><i style="transform:translateX(148.13px) scaleX(1.150)">d</i></div>
<div class="t r" style="left:721px;top:566px;font-size:25.9px"><i style="transform:translateX(0.34px) scaleX(1.028)">N</i><i style="transform:translateX(20.22px) scaleX(1.115)">o</i></div>
<div class="t r" style="left:1094px;top:566px;font-size:25.9px"><i style="transform:translateX(-0.10px) scaleX(1.000)">Y</i><i style="transform:translateX(15.13px) scaleX(1.066)">e</i><i style="transform:translateX(30.47px) scaleX(0.965)">s</i></div>
<div class="t r" style="left:1503px;top:566px;font-size:25.9px"><i style="transform:translateX(0.74px) scaleX(1.028)">N</i><i style="transform:translateX(20.62px) scaleX(1.115)">o</i></div>
<div class="t r" style="left:721px;top:647px;font-size:25.9px"><i style="transform:translateX(0.34px) scaleX(1.028)">N</i><i style="transform:translateX(20.22px) scaleX(1.115)">o</i></div>
<div class="t r" style="left:1094px;top:647px;font-size:25.9px"><i style="transform:translateX(-0.10px) scaleX(1.000)">Y</i><i style="transform:translateX(15.13px) scaleX(1.066)">e</i><i style="transform:translateX(30.47px) scaleX(0.965)">s</i></div>
<div class="t r" style="left:1503px;top:647px;font-size:25.9px"><i style="transform:translateX(0.74px) scaleX(1.028)">N</i><i style="transform:translateX(20.62px) scaleX(1.115)">o</i></div>
<div class="t r" style="left:721px;top:742px;font-size:25.9px"><i style="transform:translateX(0.34px) scaleX(1.028)">N</i><i style="transform:translateX(20.22px) scaleX(1.115)">o</i></div>
<div class="t r" style="left:1094px;top:742px;font-size:25.9px"><i style="transform:translateX(-0.10px) scaleX(1.000)">Y</i><i style="transform:translateX(15.13px) scaleX(1.066)">e</i><i style="transform:translateX(30.47px) scaleX(0.965)">s</i></div>
<div class="t r" style="left:1503px;top:742px;font-size:25.9px"><i style="transform:translateX(0.74px) scaleX(1.028)">N</i><i style="transform:translateX(20.62px) scaleX(1.115)">o</i></div>
<div class="t r" style="left:1503px;top:823px;font-size:25.9px"><i style="transform:translateX(-0.60px) scaleX(1.000)">Y</i><i style="transform:translateX(14.63px) scaleX(1.066)">e</i><i style="transform:translateX(29.97px) scaleX(0.965)">s</i></div>
<div class="t r" style="left:688px;top:886px;font-size:25.9px"><i style="transform:translateX(0.49px) scaleX(1.058)">A</i><i style="transform:translateX(18.60px) scaleX(1.080)">c</i><i style="transform:translateX(32.67px) scaleX(1.080)">c</i><i style="transform:translateX(46.71px) scaleX(1.115)">o</i><i style="transform:translateX(63.17px) scaleX(1.109)">u</i><i style="transform:translateX(80.33px) scaleX(1.118)">n</i><i style="transform:translateX(97.59px) scaleX(1.150)">t</i><i style="transform:translateX(106.34px) scaleX(0.950)">a</i><i style="transform:translateX(122.36px) scaleX(1.150)">b</i><i style="transform:translateX(139.08px) scaleX(1.150)">i</i><i style="transform:translateX(146.44px) scaleX(0.950)">l</i><i style="transform:translateX(152.75px) scaleX(1.150)">i</i><i style="transform:translateX(159.88px) scaleX(1.150)">t</i><i style="transform:translateX(167.88px) scaleX(1.117)">y</i><span class="sp"> </span><i style="transform:translateX(189.10px) scaleX(0.950)">+</i></div>
<div class="t r" style="left:688px;top:921px;font-size:25.9px"><i style="transform:translateX(0.55px) scaleX(0.963)">C</i><i style="transform:translateX(17.91px) scaleX(1.115)">o</i><i style="transform:translateX(34.99px) scaleX(1.150)">m</i><i style="transform:translateX(61.94px) scaleX(1.150)">m</i><i style="transform:translateX(88.27px) scaleX(1.109)">u</i><i style="transform:translateX(105.43px) scaleX(1.118)">n</i><i style="transform:translateX(122.17px) scaleX(1.150)">i</i><i style="transform:translateX(129.31px) scaleX(1.150)">t</i><i style="transform:translateX(137.31px) scaleX(1.117)">y</i></div>
<div class="t r" style="left:1062px;top:903px;font-size:25.9px"><i style="transform:translateX(1.18px) scaleX(1.007)">P</i><i style="transform:translateX(18.34px) scaleX(1.066)">e</i><i style="transform:translateX(34.40px) scaleX(1.031)">r</i><i style="transform:translateX(43.81px) scaleX(0.965)">s</i><i style="transform:translateX(56.15px) scaleX(1.115)">o</i><i style="transform:translateX(72.70px) scaleX(1.118)">n</i><i style="transform:translateX(88.91px) scaleX(0.950)">a</i><i style="transform:translateX(104.95px) scaleX(0.950)">l</i><i style="transform:translateX(111.27px) scaleX(1.150)">i</i><i style="transform:translateX(118.01px) scaleX(1.019)">z</i><i style="transform:translateX(130.71px) scaleX(1.066)">e</i><i style="transform:translateX(146.04px) scaleX(1.150)">d</i><span class="sp"> </span><i style="transform:translateX(169.41px) scaleX(0.986)">T</i><i style="transform:translateX(184.87px) scaleX(1.031)">r</i><i style="transform:translateX(192.92px) scaleX(0.950)">a</i><i style="transform:translateX(208.86px) scaleX(1.118)">n</i><i style="transform:translateX(225.46px) scaleX(0.965)">s</i><i style="transform:translateX(238.41px) scaleX(1.150)">f</i><i style="transform:translateX(246.19px) scaleX(1.115)">o</i><i style="transform:translateX(262.89px) scaleX(1.031)">r</i><i style="transform:translateX(273.26px) scaleX(1.150)">m</i><i style="transform:translateX(298.72px) scaleX(0.950)">a</i><i style="transform:translateX(314.76px) scaleX(1.150)">t</i><i style="transform:translateX(324.55px) scaleX(1.150)">i</i><i style="transform:translateX(331.18px) scaleX(1.115)">o</i><i style="transform:translateX(347.74px) scaleX(1.118)">n</i></div>
<div class="t r" style="left:1471px;top:903px;font-size:25.9px"><i style="transform:translateX(0.33px) scaleX(0.950)">I</i><i style="transform:translateX(8.17px) scaleX(1.118)">n</i><i style="transform:translateX(24.76px) scaleX(1.150)">d</i><i style="transform:translateX(41.99px) scaleX(1.066)">e</i><i style="transform:translateX(57.98px) scaleX(1.150)">p</i><i style="transform:translateX(74.55px) scaleX(1.066)">e</i><i style="transform:translateX(90.47px) scaleX(1.118)">n</i><i style="transform:translateX(107.05px) scaleX(1.150)">d</i><i style="transform:translateX(124.29px) scaleX(1.066)">e</i><i style="transform:translateX(140.20px) scaleX(1.118)">n</i><i style="transform:translateX(157.47px) scaleX(1.150)">t</i><span class="sp"> </span><i style="transform:translateX(173.32px) scaleX(0.950)">S</i><i style="transform:translateX(189.39px) scaleX(1.066)">e</i><i style="transform:translateX(205.40px) scaleX(0.950)">l</i><i style="transform:translateX(212.12px) scaleX(1.150)">f</i><i style="transform:translateX(220.24px) scaleX(1.047)">-</i><i style="transform:translateX(228.73px) scaleX(0.950)">S</i><i style="transform:translateX(245.46px) scaleX(1.150)">t</i><i style="transform:translateX(254.21px) scaleX(0.950)">a</i><i style="transform:translateX(270.30px) scaleX(1.031)">r</i><i style="transform:translateX(280.82px) scaleX(1.150)">t</i><i style="transform:translateX(289.98px) scaleX(1.066)">e</i><i style="transform:translateX(306.05px) scaleX(1.031)">r</i><i style="transform:translateX(315.45px) scaleX(0.965)">s</i></div>
<div class="t b" style="left:804px;top:981px;font-size:25.9px"><i style="transform:translateX(0.56px) scaleX(1.080)">$</i><i style="transform:translateX(15.32px) scaleX(0.636)">1</i><i style="transform:translateX(25.24px) scaleX(1.150)">,</i><i style="transform:translateX(32.32px) scaleX(1.150)">9</i><i style="transform:translateX(48.50px) scaleX(1.150)">9</i><i style="transform:translateX(64.48px) scaleX(1.150)">7</i><span class="sp"> </span><i style="transform:translateX(87.66px) scaleX(1.087)">o</i><i style="transform:translateX(104.58px) scaleX(1.063)">r</i></div>
<div class="t b" style="left:741px;top:1016px;font-size:25.9px"><i style="transform:translateX(-0.52px) scaleX(1.093)">3</i><span class="sp"> </span><i style="transform:translateX(22.23px) scaleX(1.137)">p</i><i style="transform:translateX(39.74px) scaleX(0.950)">a</i><i style="transform:translateX(54.58px) scaleX(1.113)">y</i><i style="transform:translateX(70.36px) scaleX(1.150)">m</i><i style="transform:translateX(96.70px) scaleX(1.150)">e</i><i style="transform:translateX(112.96px) scaleX(1.120)">n</i><i style="transform:translateX(131.07px) scaleX(1.150)">t</i><i style="transform:translateX(141.27px) scaleX(0.992)">s</i><span class="sp"> </span><i style="transform:translateX(162.23px) scaleX(1.064)">x</i><span class="sp"> </span><i style="transform:translateX(185.02px) scaleX(1.080)">$</i><i style="transform:translateX(200.91px) scaleX(1.150)">6</i><i style="transform:translateX(216.59px) scaleX(1.150)">9</i><i style="transform:translateX(232.58px) scaleX(1.150)">7</i></div>
<div class="t b" style="left:1192px;top:981px;font-size:25.9px"><i style="transform:translateX(0.82px) scaleX(1.080)">$</i><i style="transform:translateX(15.73px) scaleX(1.136)">2</i><i style="transform:translateX(31.04px) scaleX(1.150)">,</i><i style="transform:translateX(38.12px) scaleX(1.150)">9</i><i style="transform:translateX(54.30px) scaleX(1.150)">9</i><i style="transform:translateX(70.28px) scaleX(1.150)">7</i><span class="sp"> </span><i style="transform:translateX(93.46px) scaleX(1.087)">o</i><i style="transform:translateX(110.38px) scaleX(1.063)">r</i></div>
<div class="t b" style="left:1127px;top:1016px;font-size:25.9px"><i style="transform:translateX(-1.05px) scaleX(1.093)">3</i><span class="sp"> </span><i style="transform:translateX(21.70px) scaleX(1.137)">p</i><i style="transform:translateX(39.21px) scaleX(0.950)">a</i><i style="transform:translateX(54.05px) scaleX(1.113)">y</i><i style="transform:translateX(69.83px) scaleX(1.150)">m</i><i style="transform:translateX(96.17px) scaleX(1.150)">e</i><i style="transform:translateX(112.43px) scaleX(1.120)">n</i><i style="transform:translateX(130.54px) scaleX(1.150)">t</i><i style="transform:translateX(140.74px) scaleX(0.992)">s</i><span class="sp"> </span><i style="transform:translateX(161.70px) scaleX(1.064)">x</i><span class="sp"> </span><i style="transform:translateX(184.48px) scaleX(1.080)">$</i><i style="transform:translateX(199.24px) scaleX(0.636)">1</i><i style="transform:translateX(210.38px) scaleX(1.150)">0</i><i style="transform:translateX(227.86px) scaleX(1.150)">4</i><i style="transform:translateX(243.17px) scaleX(1.150)">7</i></div>
<div class="t b" style="left:1597px;top:981px;font-size:25.9px"><i style="transform:translateX(0.30px) scaleX(1.080)">$</i><i style="transform:translateX(15.44px) scaleX(1.150)">9</i><i style="transform:translateX(31.62px) scaleX(1.150)">9</i><i style="transform:translateX(47.61px) scaleX(1.150)">7</i><span class="sp"> </span><i style="transform:translateX(70.79px) scaleX(1.087)">o</i><i style="transform:translateX(87.71px) scaleX(1.063)">r</i></div>
<div class="t b" style="left:1526px;top:1016px;font-size:25.9px"><i style="transform:translateX(-0.65px) scaleX(1.093)">3</i><span class="sp"> </span><i style="transform:translateX(22.10px) scaleX(1.137)">p</i><i style="transform:translateX(39.61px) scaleX(0.950)">a</i><i style="transform:translateX(54.45px) scaleX(1.113)">y</i><i style="transform:translateX(70.23px) scaleX(1.150)">m</i><i style="transform:translateX(96.57px) scaleX(1.150)">e</i><i style="transform:translateX(112.83px) scaleX(1.120)">n</i><i style="transform:translateX(130.94px) scaleX(1.150)">t</i><i style="transform:translateX(141.14px) scaleX(0.992)">s</i><span class="sp"> </span><i style="transform:translateX(162.10px) scaleX(1.064)">x</i><span class="sp"> </span><i style="transform:translateX(184.89px) scaleX(1.080)">$</i><i style="transform:translateX(199.97px) scaleX(1.093)">3</i><i style="transform:translateX(216.26px) scaleX(1.150)">4</i><i style="transform:translateX(231.57px) scaleX(1.150)">7</i></div>
</div>
<svg class="e" style="left:688.40px;top:228.90px" width="25.5" height="25.5" viewBox="0 0 36 36"><rect width="36" height="36" rx="4" fill="#77B255"/><path fill="#FFF" d="M29.28 6.362c-1.156-.751-2.704-.422-3.458.736L14.936 23.877l-5.029-4.65c-1.014-.938-2.596-.875-3.533.138-.937 1.014-.875 2.596.139 3.533l7.209 6.666c.48.445 1.09.665 1.696.665.673 0 1.534-.282 2.099-1.139.332-.506 12.5-19.27 12.5-19.27.751-1.159.421-2.707-.737-3.458z"/></svg>
<svg class="e" style="left:1062.30px;top:228.90px" width="25.5" height="25.5" viewBox="0 0 36 36"><rect width="36" height="36" rx="4" fill="#77B255"/><path fill="#FFF" d="M29.28 6.362c-1.156-.751-2.704-.422-3.458.736L14.936 23.877l-5.029-4.65c-1.014-.938-2.596-.875-3.533.138-.937 1.014-.875 2.596.139 3.533l7.209 6.666c.48.445 1.09.665 1.696.665.673 0 1.534-.282 2.099-1.139.332-.506 12.5-19.27 12.5-19.27.751-1.159.421-2.707-.737-3.458z"/></svg>
<svg class="e" style="left:1470.80px;top:228.90px" width="25.5" height="25.5" viewBox="0 0 36 36"><rect width="36" height="36" rx="4" fill="#77B255"/><path fill="#FFF" d="M29.28 6.362c-1.156-.751-2.704-.422-3.458.736L14.936 23.877l-5.029-4.65c-1.014-.938-2.596-.875-3.533.138-.937 1.014-.875 2.596.139 3.533l7.209 6.666c.48.445 1.09.665 1.696.665.673 0 1.534-.282 2.099-1.139.332-.506 12.5-19.27 12.5-19.27.751-1.159.421-2.707-.737-3.458z"/></svg>
<svg class="e" style="left:688.40px;top:323.90px" width="25.5" height="25.5" viewBox="0 0 36 36"><rect width="36" height="36" rx="4" fill="#77B255"/><path fill="#FFF" d="M29.28 6.362c-1.156-.751-2.704-.422-3.458.736L14.936 23.877l-5.029-4.65c-1.014-.938-2.596-.875-3.533.138-.937 1.014-.875 2.596.139 3.533l7.209 6.666c.48.445 1.09.665 1.696.665.673 0 1.534-.282 2.099-1.139.332-.506 12.5-19.27 12.5-19.27.751-1.159.421-2.707-.737-3.458z"/></svg>
<svg class="e" style="left:1062.30px;top:323.90px" width="25.5" height="25.5" viewBox="0 0 36 36"><rect width="36" height="36" rx="4" fill="#77B255"/><path fill="#FFF" d="M29.28 6.362c-1.156-.751-2.704-.422-3.458.736L14.936 23.877l-5.029-4.65c-1.014-.938-2.596-.875-3.533.138-.937 1.014-.875 2.596.139 3.533l7.209 6.666c.48.445 1.09.665 1.696.665.673 0 1.534-.282 2.099-1.139.332-.506 12.5-19.27 12.5-19.27.751-1.159.421-2.707-.737-3.458z"/></svg>
<svg class="e" style="left:1470.80px;top:323.90px" width="25.5" height="25.5" viewBox="0 0 36 36"><rect width="36" height="36" rx="4" fill="#77B255"/><path fill="#FFF" d="M29.28 6.362c-1.156-.751-2.704-.422-3.458.736L14.936 23.877l-5.029-4.65c-1.014-.938-2.596-.875-3.533.138-.937 1.014-.875 2.596.139 3.533l7.209 6.666c.48.445 1.09.665 1.696.665.673 0 1.534-.282 2.099-1.139.332-.506 12.5-19.27 12.5-19.27.751-1.159.421-2.707-.737-3.458z"/></svg>
<svg class="e" style="left:688.40px;top:404.80px" width="25.5" height="25.5" viewBox="0 0 36 36"><rect width="36" height="36" rx="4" fill="#77B255"/><path fill="#FFF" d="M29.28 6.362c-1.156-.751-2.704-.422-3.458.736L14.936 23.877l-5.029-4.65c-1.014-.938-2.596-.875-3.533.138-.937 1.014-.875 2.596.139 3.533l7.209 6.666c.48.445 1.09.665 1.696.665.673 0 1.534-.282 2.099-1.139.332-.506 12.5-19.27 12.5-19.27.751-1.159.421-2.707-.737-3.458z"/></svg>
<svg class="e" style="left:1062.30px;top:404.80px" width="25.5" height="25.5" viewBox="0 0 36 36"><rect width="36" height="36" rx="4" fill="#77B255"/><path fill="#FFF" d="M29.28 6.362c-1.156-.751-2.704-.422-3.458.736L14.936 23.877l-5.029-4.65c-1.014-.938-2.596-.875-3.533.138-.937 1.014-.875 2.596.139 3.533l7.209 6.666c.48.445 1.09.665 1.696.665.673 0 1.534-.282 2.099-1.139.332-.506 12.5-19.27 12.5-19.27.751-1.159.421-2.707-.737-3.458z"/></svg>
<svg class="e" style="left:1470.80px;top:404.80px" width="25.5" height="25.5" viewBox="0 0 36 36"><path fill="#DD2E44" d="M21.533 18.002L33.768 5.768c.976-.977.976-2.559 0-3.535-.977-.977-2.559-.977-3.535 0L17.998 14.467 5.764 2.233c-.976-.977-2.56-.977-3.535 0-.977.976-.977 2.558 0 3.535l12.234 12.234L2.201 30.265c-.977.977-.977 2.559 0 3.535.488.488 1.128.732 1.768.732s1.28-.244 1.768-.732l12.262-12.263 12.234 12.234c.488.488 1.128.732 1.768.732.64 0 1.279-.244 1.768-.732.976-.977.976-2.559 0-3.535L21.533 18.002z"/></svg>
<svg class="e" style="left:688.40px;top:485.65px" width="25.5" height="25.5" viewBox="0 0 36 36"><rect width="36" height="36" rx="4" fill="#77B255"/><path fill="#FFF" d="M29.28 6.362c-1.156-.751-2.704-.422-3.458.736L14.936 23.877l-5.029-4.65c-1.014-.938-2.596-.875-3.533.138-.937 1.014-.875 2.596.139 3.533l7.209 6.666c.48.445 1.09.665 1.696.665.673 0 1.534-.282 2.099-1.139.332-.506 12.5-19.27 12.5-19.27.751-1.159.421-2.707-.737-3.458z"/></svg>
<svg class="e" style="left:1062.30px;top:485.65px" width="25.5" height="25.5" viewBox="0 0 36 36"><rect width="36" height="36" rx="4" fill="#77B255"/><path fill="#FFF" d="M29.28 6.362c-1.156-.751-2.704-.422-3.458.736L14.936 23.877l-5.029-4.65c-1.014-.938-2.596-.875-3.533.138-.937 1.014-.875 2.596.139 3.533l7.209 6.666c.48.445 1.09.665 1.696.665.673 0 1.534-.282 2.099-1.139.332-.506 12.5-19.27 12.5-19.27.751-1.159.421-2.707-.737-3.458z"/></svg>
<svg class="e" style="left:1470.80px;top:485.65px" width="25.5" height="25.5" viewBox="0 0 36 36"><path fill="#DD2E44" d="M21.533 18.002L33.768 5.768c.976-.977.976-2.559 0-3.535-.977-.977-2.559-.977-3.535 0L17.998 14.467 5.764 2.233c-.976-.977-2.56-.977-3.535 0-.977.976-.977 2.558 0 3.535l12.234 12.234L2.201 30.265c-.977.977-.977 2.559 0 3.535.488.488 1.128.732 1.768.732s1.28-.244 1.768-.732l12.262-12.263 12.234 12.234c.488.488 1.128.732 1.768.732.64 0 1.279-.244 1.768-.732.976-.977.976-2.559 0-3.535L21.533 18.002z"/></svg>
<svg class="e" style="left:688.40px;top:566.55px" width="25.5" height="25.5" viewBox="0 0 36 36"><path fill="#DD2E44" d="M21.533 18.002L33.768 5.768c.976-.977.976-2.559 0-3.535-.977-.977-2.559-.977-3.535 0L17.998 14.467 5.764 2.233c-.976-.977-2.56-.977-3.535 0-.977.976-.977 2.558 0 3.535l12.234 12.234L2.201 30.265c-.977.977-.977 2.559 0 3.535.488.488 1.128.732 1.768.732s1.28-.244 1.768-.732l12.262-12.263 12.234 12.234c.488.488 1.128.732 1.768.732.64 0 1.279-.244 1.768-.732.976-.977.976-2.559 0-3.535L21.533 18.002z"/></svg>
<svg class="e" style="left:1062.30px;top:566.55px" width="25.5" height="25.5" viewBox="0 0 36 36"><rect width="36" height="36" rx="4" fill="#77B255"/><path fill="#FFF" d="M29.28 6.362c-1.156-.751-2.704-.422-3.458.736L14.936 23.877l-5.029-4.65c-1.014-.938-2.596-.875-3.533.138-.937 1.014-.875 2.596.139 3.533l7.209 6.666c.48.445 1.09.665 1.696.665.673 0 1.534-.282 2.099-1.139.332-.506 12.5-19.27 12.5-19.27.751-1.159.421-2.707-.737-3.458z"/></svg>
<svg class="e" style="left:1470.80px;top:566.55px" width="25.5" height="25.5" viewBox="0 0 36 36"><path fill="#DD2E44" d="M21.533 18.002L33.768 5.768c.976-.977.976-2.559 0-3.535-.977-.977-2.559-.977-3.535 0L17.998 14.467 5.764 2.233c-.976-.977-2.56-.977-3.535 0-.977.976-.977 2.558 0 3.535l12.234 12.234L2.201 30.265c-.977.977-.977 2.559 0 3.535.488.488 1.128.732 1.768.732s1.28-.244 1.768-.732l12.262-12.263 12.234 12.234c.488.488 1.128.732 1.768.732.64 0 1.279-.244 1.768-.732.976-.977.976-2.559 0-3.535L21.533 18.002z"/></svg>
<svg class="e" style="left:688.40px;top:647.50px" width="25.5" height="25.5" viewBox="0 0 36 36"><path fill="#DD2E44" d="M21.533 18.002L33.768 5.768c.976-.977.976-2.559 0-3.535-.977-.977-2.559-.977-3.535 0L17.998 14.467 5.764 2.233c-.976-.977-2.56-.977-3.535 0-.977.976-.977 2.558 0 3.535l12.234 12.234L2.201 30.265c-.977.977-.977 2.559 0 3.535.488.488 1.128.732 1.768.732s1.28-.244 1.768-.732l12.262-12.263 12.234 12.234c.488.488 1.128.732 1.768.732.64 0 1.279-.244 1.768-.732.976-.977.976-2.559 0-3.535L21.533 18.002z"/></svg>
<svg class="e" style="left:1062.30px;top:647.50px" width="25.5" height="25.5" viewBox="0 0 36 36"><rect width="36" height="36" rx="4" fill="#77B255"/><path fill="#FFF" d="M29.28 6.362c-1.156-.751-2.704-.422-3.458.736L14.936 23.877l-5.029-4.65c-1.014-.938-2.596-.875-3.533.138-.937 1.014-.875 2.596.139 3.533l7.209 6.666c.48.445 1.09.665 1.696.665.673 0 1.534-.282 2.099-1.139.332-.506 12.5-19.27 12.5-19.27.751-1.159.421-2.707-.737-3.458z"/></svg>
<svg class="e" style="left:1470.80px;top:647.50px" width="25.5" height="25.5" viewBox="0 0 36 36"><path fill="#DD2E44" d="M21.533 18.002L33.768 5.768c.976-.977.976-2.559 0-3.535-.977-.977-2.559-.977-3.535 0L17.998 14.467 5.764 2.233c-.976-.977-2.56-.977-3.535 0-.977.976-.977 2.558 0 3.535l12.234 12.234L2.201 30.265c-.977.977-.977 2.559 0 3.535.488.488 1.128.732 1.768.732s1.28-.244 1.768-.732l12.262-12.263 12.234 12.234c.488.488 1.128.732 1.768.732.64 0 1.279-.244 1.768-.732.976-.977.976-2.559 0-3.535L21.533 18.002z"/></svg>
<svg class="e" style="left:688.40px;top:742.50px" width="25.5" height="25.5" viewBox="0 0 36 36"><path fill="#DD2E44" d="M21.533 18.002L33.768 5.768c.976-.977.976-2.559 0-3.535-.977-.977-2.559-.977-3.535 0L17.998 14.467 5.764 2.233c-.976-.977-2.56-.977-3.535 0-.977.976-.977 2.558 0 3.535l12.234 12.234L2.201 30.265c-.977.977-.977 2.559 0 3.535.488.488 1.128.732 1.768.732s1.28-.244 1.768-.732l12.262-12.263 12.234 12.234c.488.488 1.128.732 1.768.732.64 0 1.279-.244 1.768-.732.976-.977.976-2.559 0-3.535L21.533 18.002z"/></svg>
<svg class="e" style="left:1062.30px;top:742.50px" width="25.5" height="25.5" viewBox="0 0 36 36"><rect width="36" height="36" rx="4" fill="#77B255"/><path fill="#FFF" d="M29.28 6.362c-1.156-.751-2.704-.422-3.458.736L14.936 23.877l-5.029-4.65c-1.014-.938-2.596-.875-3.533.138-.937 1.014-.875 2.596.139 3.533l7.209 6.666c.48.445 1.09.665 1.696.665.673 0 1.534-.282 2.099-1.139.332-.506 12.5-19.27 12.5-19.27.751-1.159.421-2.707-.737-3.458z"/></svg>
<svg class="e" style="left:1470.80px;top:742.50px" width="25.5" height="25.5" viewBox="0 0 36 36"><path fill="#DD2E44" d="M21.533 18.002L33.768 5.768c.976-.977.976-2.559 0-3.535-.977-.977-2.559-.977-3.535 0L17.998 14.467 5.764 2.233c-.976-.977-2.56-.977-3.535 0-.977.976-.977 2.558 0 3.535l12.234 12.234L2.201 30.265c-.977.977-.977 2.559 0 3.535.488.488 1.128.732 1.768.732s1.28-.244 1.768-.732l12.262-12.263 12.234 12.234c.488.488 1.128.732 1.768.732.64 0 1.279-.244 1.768-.732.976-.977.976-2.559 0-3.535L21.533 18.002z"/></svg>
<svg class="e" style="left:1470.80px;top:823.25px" width="25.5" height="25.5" viewBox="0 0 36 36"><rect width="36" height="36" rx="4" fill="#77B255"/><path fill="#FFF" d="M29.28 6.362c-1.156-.751-2.704-.422-3.458.736L14.936 23.877l-5.029-4.65c-1.014-.938-2.596-.875-3.533.138-.937 1.014-.875 2.596.139 3.533l7.209 6.666c.48.445 1.09.665 1.696.665.673 0 1.534-.282 2.099-1.139.332-.506 12.5-19.27 12.5-19.27.751-1.159.421-2.707-.737-3.458z"/></svg>
<svg class="e" style="left:1083.3px;top:104.4px" width="29.2" height="29.2" viewBox="0 0 36 36"><path fill="#BDDDF4" d="M13 3H7l-7 9h10z"/><path fill="#5DADEC" d="M36 12l-7-9h-6l3 9z"/><path fill="#4289C1" d="M26 12h10L18 33z"/><path fill="#8CCAF7" d="M10 12H0l18 21zm3-9l-3 9h16l-3-9z"/><path fill="#5DADEC" d="M18 33l-8-21h16z"/></svg>
<svg class="e" style="left:706px;top:100px" width="36" height="38" viewBox="0 0 36 38"><path fill="#F4900C" d="M7.6 11.3C6.8 13.5 7.5 17.2 9.9 17.6C12.0 17.9 12.6 15.5 11.8 12.5C11.3 10.5 12.2 7.5 13.5 6.0C13.9 9.0 15.2 11.8 17.6 11.8C20.0 11.8 21.0 8.0 20.1 4.75C23.5 6.0 25.8 9.5 25.3 13.5C25.0 16.0 24.2 19.5 26.8 20.8C29.0 21.8 31.0 18.0 31.5 15.1C32.3 17.5 31.8 20.5 31.8 21.8C31.8 28.5 25.5 33.8 17.9 33.8C10.5 33.8 4.2 28.0 4.2 20.4C4.2 16.5 5.5 13.5 7.6 11.3Z"/><path fill="#FFCC4D" d="M9.0 27.5C9.0 25.0 10.0 23.0 11.4 22.2C11.6 24.0 12.5 25.0 13.8 24.8C15.5 24.5 15.8 22.5 15.8 20.5C15.8 19.5 16.8 18.3 17.6 18.0C20.0 19.0 21.3 21.0 21.4 23.5C21.5 25.5 22.3 26.9 24.0 26.8C25.3 26.7 26.0 25.5 26.4 24.3C27.8 25.5 28.2 27.0 28.1 28.5C26.5 31.8 22.5 33.8 17.9 33.8C13.8 33.8 10.8 31.5 9.0 29.5Z"/>
</svg>
<svg class="e" style="left:1544px;top:100px" width="38" height="38" viewBox="0 0 38 38"><path fill="none" stroke="#77B255" stroke-width="3.2" stroke-linecap="round" d="M18.9 32.0L18.9 17.5C18.9 13.5 17.0 10.5 14.2 8.8"/><path fill="none" stroke="#77B255" stroke-width="3" stroke-linecap="round" d="M19.5 23.5C20.5 21.0 22.5 19.0 24.5 18.3"/><path fill="#77B255" d="M4.9 6.2C7.0 4.8 11.0 4.5 13.2 6.0C14.5 6.9 15.0 8.0 14.8 8.5C14.0 11.0 12.5 12.3 11.5 12.2C9.5 12.0 8.0 10.5 7.5 9.0C6.8 7.8 5.8 6.8 4.9 6.2Z"/><path fill="#77B255" d="M33.1 13.2C31.0 12.0 28.0 11.6 25.5 12.5C23.8 13.2 23.0 14.5 23.2 16.2C23.5 18.5 25.0 19.9 26.8 19.9C28.6 19.9 29.8 18.3 30.5 16.8C31.3 15.0 32.2 13.8 33.1 13.2Z"/>
</svg>
</body></html>
